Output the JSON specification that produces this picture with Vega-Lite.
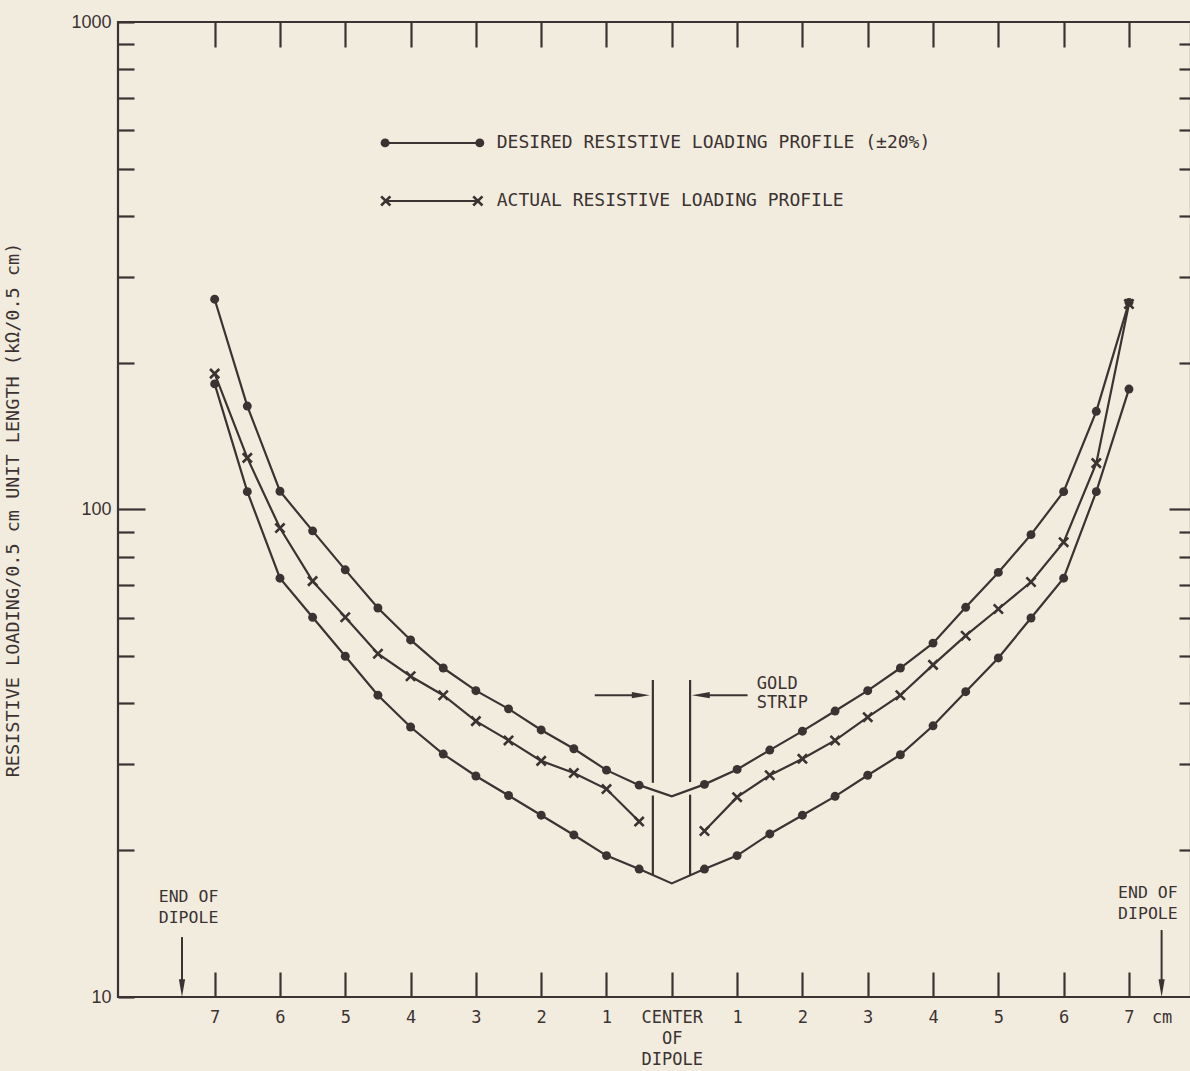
{
  "$schema": "https://vega.github.io/schema/vega-lite/v6.json",
  "autosize": {"type": "none"},
  "padding": {"left": 118, "top": 22, "right": 0, "bottom": 74},
  "width": 1073,
  "height": 975,
  "background": "#f2ecdf",
  "config": {
    "view": {"stroke": "#3b3331", "strokeWidth": 2.2},
    "axis": {"domain": false, "grid": false, "tickColor": "#3b3331", "tickWidth": 2.2, "labelColor": "#3b3331", "titleColor": "#3b3331", "labelOverlap": false, "labelFlush": false}
  },
  "datasets": {
    "curves": [
      {"seg": "upper", "x": -7, "y": 270}, {"seg": "upper", "x": -6.5, "y": 163}, {"seg": "upper", "x": -6, "y": 109}, {"seg": "upper", "x": -5.5, "y": 90.4}, {"seg": "upper", "x": -5, "y": 75.2}, {"seg": "upper", "x": -4.5, "y": 62.8}, {"seg": "upper", "x": -4, "y": 54}, {"seg": "upper", "x": -3.5, "y": 47.3}, {"seg": "upper", "x": -3, "y": 42.5}, {"seg": "upper", "x": -2.5, "y": 39.0}, {"seg": "upper", "x": -2, "y": 35.3}, {"seg": "upper", "x": -1.5, "y": 32.3}, {"seg": "upper", "x": -1, "y": 29.2}, {"seg": "upper", "x": -0.5, "y": 27.2}, {"seg": "upper", "x": 0, "y": 25.8}, {"seg": "upper", "x": 0.5, "y": 27.3}, {"seg": "upper", "x": 1, "y": 29.3}, {"seg": "upper", "x": 1.5, "y": 32.1}, {"seg": "upper", "x": 2, "y": 35.1}, {"seg": "upper", "x": 2.5, "y": 38.6}, {"seg": "upper", "x": 3, "y": 42.5}, {"seg": "upper", "x": 3.5, "y": 47.3}, {"seg": "upper", "x": 4, "y": 53.2}, {"seg": "upper", "x": 4.5, "y": 63.0}, {"seg": "upper", "x": 5, "y": 74.3}, {"seg": "upper", "x": 5.5, "y": 88.8}, {"seg": "upper", "x": 6, "y": 108.8}, {"seg": "upper", "x": 6.5, "y": 159}, {"seg": "upper", "x": 7, "y": 266},
      {"seg": "lower", "x": -7, "y": 181}, {"seg": "lower", "x": -6.5, "y": 108.8}, {"seg": "lower", "x": -6, "y": 72.3}, {"seg": "lower", "x": -5.5, "y": 60.1}, {"seg": "lower", "x": -5, "y": 50.0}, {"seg": "lower", "x": -4.5, "y": 41.6}, {"seg": "lower", "x": -4, "y": 35.8}, {"seg": "lower", "x": -3.5, "y": 31.5}, {"seg": "lower", "x": -3, "y": 28.4}, {"seg": "lower", "x": -2.5, "y": 25.9}, {"seg": "lower", "x": -2, "y": 23.6}, {"seg": "lower", "x": -1.5, "y": 21.5}, {"seg": "lower", "x": -1, "y": 19.5}, {"seg": "lower", "x": -0.5, "y": 18.3}, {"seg": "lower", "x": 0, "y": 17.1}, {"seg": "lower", "x": 0.5, "y": 18.3}, {"seg": "lower", "x": 1, "y": 19.5}, {"seg": "lower", "x": 1.5, "y": 21.6}, {"seg": "lower", "x": 2, "y": 23.6}, {"seg": "lower", "x": 2.5, "y": 25.8}, {"seg": "lower", "x": 3, "y": 28.5}, {"seg": "lower", "x": 3.5, "y": 31.4}, {"seg": "lower", "x": 4, "y": 36.0}, {"seg": "lower", "x": 4.5, "y": 42.3}, {"seg": "lower", "x": 5, "y": 49.6}, {"seg": "lower", "x": 5.5, "y": 59.9}, {"seg": "lower", "x": 6, "y": 72.3}, {"seg": "lower", "x": 6.5, "y": 108.8}, {"seg": "lower", "x": 7, "y": 176.6},
      {"seg": "actualL", "x": -7, "y": 190}, {"seg": "actualL", "x": -6.5, "y": 127.6}, {"seg": "actualL", "x": -6, "y": 91.6}, {"seg": "actualL", "x": -5.5, "y": 71.3}, {"seg": "actualL", "x": -5, "y": 60.1}, {"seg": "actualL", "x": -4.5, "y": 50.6}, {"seg": "actualL", "x": -4, "y": 45.5}, {"seg": "actualL", "x": -3.5, "y": 41.6}, {"seg": "actualL", "x": -3, "y": 36.8}, {"seg": "actualL", "x": -2.5, "y": 33.6}, {"seg": "actualL", "x": -2, "y": 30.5}, {"seg": "actualL", "x": -1.5, "y": 28.8}, {"seg": "actualL", "x": -1, "y": 26.7}, {"seg": "actualL", "x": -0.5, "y": 22.9},
      {"seg": "actualR", "x": 0.5, "y": 21.9}, {"seg": "actualR", "x": 1, "y": 25.7}, {"seg": "actualR", "x": 1.5, "y": 28.5}, {"seg": "actualR", "x": 2, "y": 30.8}, {"seg": "actualR", "x": 2.5, "y": 33.6}, {"seg": "actualR", "x": 3, "y": 37.5}, {"seg": "actualR", "x": 3.5, "y": 41.6}, {"seg": "actualR", "x": 4, "y": 48.0}, {"seg": "actualR", "x": 4.5, "y": 55.1}, {"seg": "actualR", "x": 5, "y": 62.5}, {"seg": "actualR", "x": 5.5, "y": 71.0}, {"seg": "actualR", "x": 6, "y": 85.7}, {"seg": "actualR", "x": 6.5, "y": 124.5}, {"seg": "actualR", "x": 7, "y": 264}
    ],
    "goldRules": [
      {"x": -0.29, "y": 44.7, "y2": 27.5}, {"x": -0.29, "y": 25.9, "y2": 17.8},
      {"x": 0.28, "y": 44.7, "y2": 27.6}, {"x": 0.28, "y": 26.0, "y2": 17.8}
    ],
    "hArrows": [{"x": -1.18, "x2": -0.5, "y": 41.6}, {"x": 1.16, "x2": 0.47, "y": 41.6}],
    "headRight": [{"x": -0.475, "y": 41.6}],
    "headLeft": [{"x": 0.444, "y": 41.6}],
    "vArrows": [{"x": -7.5, "y": 13.27, "y2": 10.6}, {"x": 7.5, "y": 13.72, "y2": 10.6}],
    "headDown": [{"x": -7.5, "y": 10.43}, {"x": 7.5, "y": 10.43}],
    "leftTexts": [
      {"x": 1.3, "y": 43.9, "t": "GOLD"}, {"x": 1.3, "y": 40.1, "t": "STRIP"}
    ],
    "centerTexts": [
      {"x": -7.4, "y": 16.03, "t": "END OF"}, {"x": -7.4, "y": 14.52, "t": "DIPOLE"},
      {"x": 7.29, "y": 16.34, "t": "END OF"}, {"x": 7.29, "y": 14.80, "t": "DIPOLE"}
    ],
    "legLine": [{"x": -4.39, "x2": -2.94, "y": 565}, {"x": -4.38, "x2": -2.97, "y": 429.5}],
    "legDot": [{"x": -4.39, "y": 565}, {"x": -2.94, "y": 565}],
    "legX": [{"x": -4.38, "y": 429.5}, {"x": -2.97, "y": 429.5}],
    "legText": [
      {"x": -2.68, "y": 565, "t": "DESIRED RESISTIVE LOADING PROFILE (±20%)"},
      {"x": -2.68, "y": 429.5, "t": "ACTUAL RESISTIVE LOADING PROFILE"}
    ]
  },
  "encoding": {
    "x": {"field": "x", "type": "quantitative", "scale": {"domain": [-8.48, 7.95], "nice": false, "zero": false}, "axis": null},
    "y": {"field": "y", "type": "quantitative", "scale": {"type": "log", "domain": [10, 1000], "nice": false}, "axis": null}
  },
  "layer": [
    {
      "data": {"name": "curves"},
      "mark": {"type": "line", "color": "#3b3331", "strokeWidth": 2.2},
      "encoding": {
        "x": {"field": "x", "type": "quantitative", "scale": {"domain": [-8.48, 7.95], "nice": false, "zero": false},
          "axis": {"orient": "bottom", "title": null, "values": [-7, -6, -5, -4, -3, -2, -1, 0, 1, 2, 3, 4, 5, 6, 7, 7.5],
            "tickSize": -25, "labelPadding": 37, "labelBaseline": "top", "labelAlign": "center",
            "labelFont": "DejaVu Sans Mono", "labelFontSize": 17, "labelLineHeight": 21,
            "tickOpacity": {"condition": {"test": "datum.value == 7.5", "value": 0}, "value": 1},
            "labelExpr": "datum.value == 0 ? ['CENTER', 'OF', 'DIPOLE'] : (datum.value == 7.5 ? 'cm' : format(abs(datum.value), 'd'))"}},
        "y": {"field": "y", "type": "quantitative", "scale": {"type": "log", "domain": [10, 1000], "nice": false},
          "axis": {"orient": "left", "values": [10, 20, 30, 40, 50, 60, 70, 80, 90, 100, 200, 300, 400, 500, 600, 700, 800, 900, 1000],
            "tickSize": {"condition": {"test": "datum.value == 100", "value": -27}, "value": -16},
            "labelPadding": {"condition": {"test": "datum.value == 100", "value": 34}, "value": 23},
            "labelFont": "Liberation Sans", "labelFontSize": 18,
            "labelExpr": "(datum.value == 10 || datum.value == 100 || datum.value == 1000) ? format(datum.value, 'd') : ''",
            "title": "RESISTIVE LOADING/0.5 cm UNIT LENGTH (kΩ/0.5 cm)",
            "titleFont": "DejaVu Sans Mono", "titleFontSize": 18.5, "titleFontWeight": "normal", "titlePadding": 48}},
        "detail": {"field": "seg"}
      }
    },
    {
      "data": {"name": "curves"},
      "transform": [{"filter": "datum.seg != 'actualL' && datum.seg != 'actualR' && datum.x != 0"}],
      "mark": {"type": "point", "shape": "circle", "filled": true, "color": "#3b3331", "size": 80, "opacity": 1},
      "encoding": {
        "x": {"field": "x", "type": "quantitative", "scale": {"domain": [-8.48, 7.95], "nice": false, "zero": false},
          "axis": {"orient": "top", "title": null, "values": [-7, -6, -5, -4, -3, -2, -1, 0, 1, 2, 3, 4, 5, 6, 7], "tickSize": -25, "labels": false}},
        "y": {"field": "y", "type": "quantitative", "scale": {"type": "log", "domain": [10, 1000], "nice": false},
          "axis": {"orient": "right", "title": null, "values": [20, 30, 40, 50, 60, 70, 80, 90, 100, 200, 300, 400, 500, 600, 700, 800, 900],
            "tickSize": {"condition": {"test": "datum.value == 100", "value": -22}, "value": -12}, "labels": false}}
      }
    },
    {
      "data": {"name": "curves"},
      "transform": [{"filter": "datum.seg == 'actualL' || datum.seg == 'actualR'"}],
      "mark": {"type": "point", "shape": "M-1,-1L1,1M1,-1L-1,1", "filled": false, "color": "#3b3331", "strokeWidth": 2.6, "size": 85, "opacity": 1}
    },
    {
      "data": {"name": "goldRules"},
      "mark": {"type": "rule", "color": "#3b3331", "strokeWidth": 2.2},
      "encoding": {"y2": {"field": "y2"}}
    },
    {
      "data": {"name": "hArrows"},
      "mark": {"type": "rule", "color": "#3b3331", "strokeWidth": 2},
      "encoding": {"x2": {"field": "x2"}}
    },
    {
      "data": {"name": "headRight"},
      "mark": {"type": "point", "shape": "M1,0L-1,-0.35L-1,0.35Z", "filled": true, "color": "#3b3331", "size": 320, "opacity": 1}
    },
    {
      "data": {"name": "headLeft"},
      "mark": {"type": "point", "shape": "M-1,0L1,-0.35L1,0.35Z", "filled": true, "color": "#3b3331", "size": 320, "opacity": 1}
    },
    {
      "data": {"name": "vArrows"},
      "mark": {"type": "rule", "color": "#3b3331", "strokeWidth": 2},
      "encoding": {"y2": {"field": "y2"}}
    },
    {
      "data": {"name": "headDown"},
      "mark": {"type": "point", "shape": "M0,1L-0.35,-1L0.35,-1Z", "filled": true, "color": "#3b3331", "size": 320, "opacity": 1}
    },
    {
      "data": {"name": "leftTexts"},
      "mark": {"type": "text", "align": "left", "baseline": "middle", "font": "DejaVu Sans Mono", "fontSize": 17, "color": "#3b3331"},
      "encoding": {"text": {"field": "t"}}
    },
    {
      "data": {"name": "centerTexts"},
      "mark": {"type": "text", "align": "center", "baseline": "middle", "font": "DejaVu Sans Mono", "fontSize": 16.5, "color": "#3b3331"},
      "encoding": {"text": {"field": "t"}}
    },
    {
      "data": {"name": "legLine"},
      "mark": {"type": "rule", "color": "#3b3331", "strokeWidth": 2},
      "encoding": {"x2": {"field": "x2"}}
    },
    {
      "data": {"name": "legDot"},
      "mark": {"type": "point", "shape": "circle", "filled": true, "color": "#3b3331", "size": 80, "opacity": 1}
    },
    {
      "data": {"name": "legX"},
      "mark": {"type": "point", "shape": "M-1,-1L1,1M1,-1L-1,1", "filled": false, "color": "#3b3331", "strokeWidth": 2.6, "size": 85, "opacity": 1}
    },
    {
      "data": {"name": "legText"},
      "mark": {"type": "text", "align": "left", "baseline": "middle", "font": "DejaVu Sans Mono", "fontSize": 18, "color": "#3b3331"},
      "encoding": {"text": {"field": "t"}}
    }
  ],
  "resolve": {"axis": {"x": "independent", "y": "independent"}}
}
